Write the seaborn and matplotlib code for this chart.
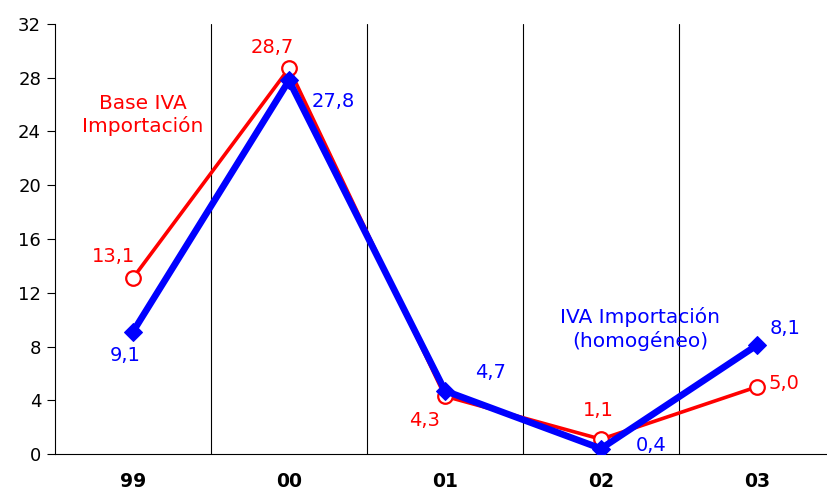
import matplotlib
matplotlib.use("Agg")
import matplotlib.pyplot as plt
import seaborn as sns
import pandas as pd
import numpy as np

years = ["99", "00", "01", "02", "03"]
base_iva = [13.1, 28.7, 4.3, 1.1, 5.0]
iva_homog = [9.1, 27.8, 4.7, 0.4, 8.1]
y_ticks = [0, 4, 8, 12, 16, 20, 24, 28, 32]

sns.set_style("white")
plt.rcParams['font.family'] = ['DejaVu Sans']

fig = plt.figure(figsize=(8.27, 4.94), dpi=100)
ax = fig.add_axes([55/827, 1-454/494, 780/827, 430/494])

x = np.arange(len(years))
df = pd.DataFrame({"x": x, "base": base_iva, "homog": iva_homog})

sns.lineplot(data=df, x="x", y="base", ax=ax, color="#ff0000", linewidth=2.6,
             marker="o", markersize=10.5, markerfacecolor="white",
             markeredgecolor="#ff0000", markeredgewidth=1.6, sort=False, zorder=3)
sns.lineplot(data=df, x="x", y="homog", ax=ax, color="#0000ff", linewidth=4.8,
             marker="D", markersize=9.5, markerfacecolor="#0000ff",
             markeredgecolor="#0000ff", sort=False, zorder=4)

ax.set_xlim(-0.5, 4.5)
ax.set_ylim(0, 32)
ax.set_yticks(y_ticks)
ax.set_yticklabels([str(t) for t in y_ticks], fontsize=13, color="black")
ax.set_xticks(x)
ax.set_xticklabels(years, fontsize=13.5, fontweight="bold", color="black")
ax.set_xticks(np.arange(0.5, 4.5, 1.0), minor=True)
ax.tick_params(axis="x", which="major", length=0, pad=13)
ax.tick_params(axis="x", which="minor", length=6, width=0.8, direction="out", color="black")
ax.tick_params(axis="y", length=6, width=0.8, direction="out", color="black", pad=4, left=True)
ax.grid(axis="x", which="minor", color="black", linewidth=0.8)
ax.grid(axis="y", visible=False)
ax.set_xlabel("")
ax.set_ylabel("")
for s in ["top", "right"]:
    ax.spines[s].set_visible(False)
for s in ["left", "bottom"]:
    ax.spines[s].set_color("black")
    ax.spines[s].set_linewidth(0.8)

fmt = lambda v: f"{v:.1f}".replace(".", ",")
red_off = [(-20, 21), (-17, 21), (-20, -24), (-3, 29), (27, 3)]
blue_off = [(-8, -24), (44, -21), (45, 18), (50, 3), (28, 17)]
for i in range(len(years)):
    ax.annotate(fmt(base_iva[i]), (x[i], base_iva[i]), xytext=red_off[i],
                textcoords="offset pixels", color="#ff0000", fontsize=14,
                ha="center", va="center")
    ax.annotate(fmt(iva_homog[i]), (x[i], iva_homog[i]), xytext=blue_off[i],
                textcoords="offset pixels", color="#0000ff", fontsize=14,
                ha="center", va="center")

ax.text(143/827, 1-115/494, "Base IVA\nImportación", transform=fig.transFigure,
        color="#ff0000", fontsize=14.5, ha="center", va="center", linespacing=1.2)
ax.text(640/827, 1-329/494, "IVA Importación\n(homogéneo)", transform=fig.transFigure,
        color="#0000ff", fontsize=14.5, ha="center", va="center", linespacing=1.2)

fig.savefig("out.png", dpi=100)
